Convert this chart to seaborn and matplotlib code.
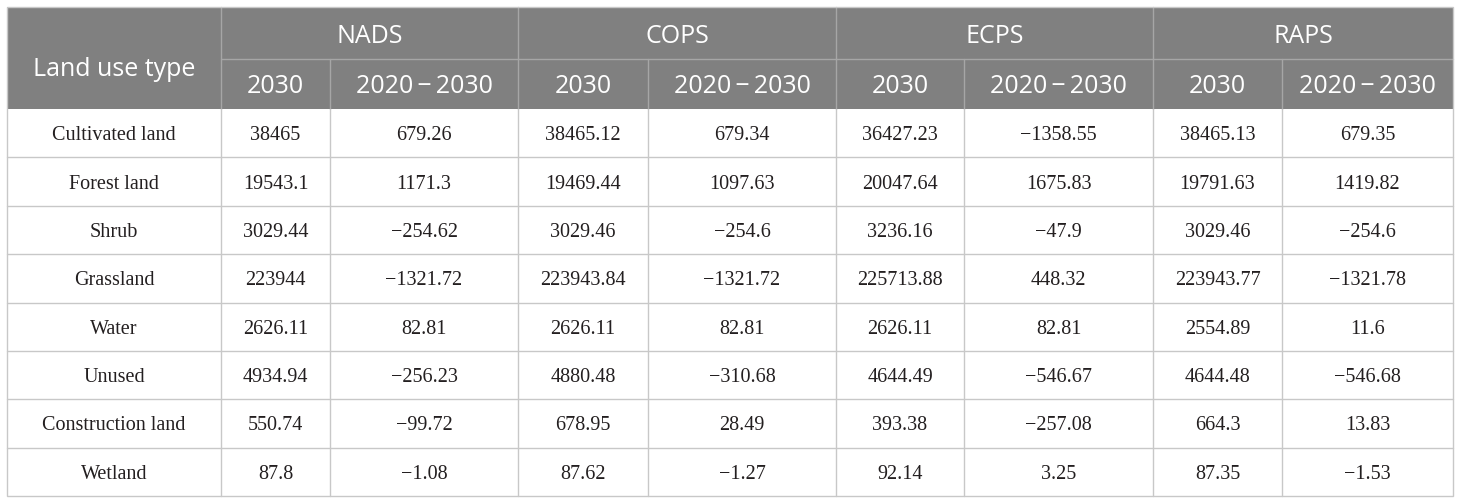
import matplotlib
matplotlib.use("Agg")
import matplotlib.pyplot as plt
from matplotlib.patches import Rectangle
import seaborn as sns

sns.set_theme(style="white")

# ---- data ----
land_types = ["Cultivated land", "Forest land", "Shrub", "Grassland", "Water",
              "Unused", "Construction land", "Wetland"]
scenarios = ["NADS", "COPS", "ECPS", "RAPS"]
sub_headers = ["2030", "2020\u2009\u2212\u20092030"]
row_header = "Land use type"

nads_2030 = ["38465", "19543.1", "3029.44", "223944", "2626.11", "4934.94", "550.74", "87.8"]
nads_chg = ["679.26", "1171.3", "\u2212254.62", "\u22121321.72", "82.81", "\u2212256.23", "\u221299.72", "\u22121.08"]
cops_2030 = ["38465.12", "19469.44", "3029.46", "223943.84", "2626.11", "4880.48", "678.95", "87.62"]
cops_chg = ["679.34", "1097.63", "\u2212254.6", "\u22121321.72", "82.81", "\u2212310.68", "28.49", "\u22121.27"]
ecps_2030 = ["36427.23", "20047.64", "3236.16", "225713.88", "2626.11", "4644.49", "393.38", "92.14"]
ecps_chg = ["\u22121358.55", "1675.83", "\u221247.9", "448.32", "82.81", "\u2212546.67", "\u2212257.08", "3.25"]
raps_2030 = ["38465.13", "19791.63", "3029.46", "223943.77", "2554.89", "4644.48", "664.3", "87.35"]
raps_chg = ["679.35", "1419.82", "\u2212254.6", "\u22121321.78", "11.6", "\u2212546.68", "13.83", "\u22121.53"]

columns = [nads_2030, nads_chg, cops_2030, cops_chg, ecps_2030, ecps_chg, raps_2030, raps_chg]

# ---- layout (pixels) ----
W, H = 1460, 504
col_edges = [7, 221, 330, 518, 648, 836, 964, 1153, 1282, 1453]
top, hdr_mid, hdr_bot, bottom = 7, 59, 109, 496
n_rows = len(land_types)
row_h = (bottom - hdr_bot) / n_rows

header_bg = "#808080"
header_line = "#a6a6a6"
grid_line = "#c8c8c8"
text_dark = "#231f20"

fig = plt.figure(figsize=(W / 100, H / 100), dpi=100)
ax = fig.add_axes([0, 0, 1, 1])
ax.set_xlim(0, W)
ax.set_ylim(H, 0)
ax.axis("off")

# header background
ax.add_patch(Rectangle((col_edges[0], top), col_edges[-1] - col_edges[0], hdr_bot - top,
                       facecolor=header_bg, edgecolor="none", zorder=1))

sans = ["Open Sans", "DejaVu Sans"]
serif = ["Liberation Serif", "DejaVu Serif"]
hdr_fs = 18
body_fs = 14.5

lw = 1.0
ax.plot([col_edges[1], col_edges[-1]], [hdr_mid, hdr_mid], color=header_line, lw=lw, zorder=2)
for i, x in enumerate(col_edges[1:-1], start=1):
    y0 = top if (i % 2 == 1) else hdr_mid
    ax.plot([x, x], [y0, hdr_bot], color=header_line, lw=lw, zorder=2)

# header text (baseline-positioned)
ax.text((col_edges[0] + col_edges[1]) / 2, 76, row_header,
        ha="center", va="baseline", color="white", fontsize=hdr_fs, family=sans, zorder=3)
for k, sc in enumerate(scenarios):
    x0 = col_edges[1 + 2 * k]
    x1 = col_edges[3 + 2 * k]
    ax.text((x0 + x1) / 2, 43, sc, ha="center", va="baseline",
            color="white", fontsize=hdr_fs, family=sans, zorder=3)
    for j, sh in enumerate(sub_headers):
        a = col_edges[1 + 2 * k + j]
        b = col_edges[2 + 2 * k + j]
        ax.text((a + b) / 2, 93, sh, ha="center", va="baseline",
                color="white", fontsize=hdr_fs, family=sans, zorder=3)

# body grid
for r in range(1, n_rows):
    y = hdr_bot + r * row_h
    ax.plot([col_edges[0], col_edges[-1]], [y, y], color=grid_line, lw=lw, zorder=2)
for x in col_edges[1:-1]:
    ax.plot([x, x], [hdr_bot, bottom], color=grid_line, lw=lw, zorder=2)
ax.add_patch(Rectangle((col_edges[0], top), col_edges[-1] - col_edges[0], bottom - top,
                       facecolor="none", edgecolor=grid_line, lw=lw, zorder=2))

# body text
for r, name in enumerate(land_types):
    yb = hdr_bot + (r + 0.5) * row_h + 7
    ax.text((col_edges[0] + col_edges[1]) / 2, yb, name, ha="center", va="baseline",
            color=text_dark, fontsize=body_fs, family=serif, zorder=3)
    for c, col in enumerate(columns):
        xc = (col_edges[c + 1] + col_edges[c + 2]) / 2
        ax.text(xc, yb, col[r], ha="center", va="baseline",
                color=text_dark, fontsize=body_fs, family=serif, zorder=3)

fig.savefig("out.png", dpi=100, facecolor="white")
